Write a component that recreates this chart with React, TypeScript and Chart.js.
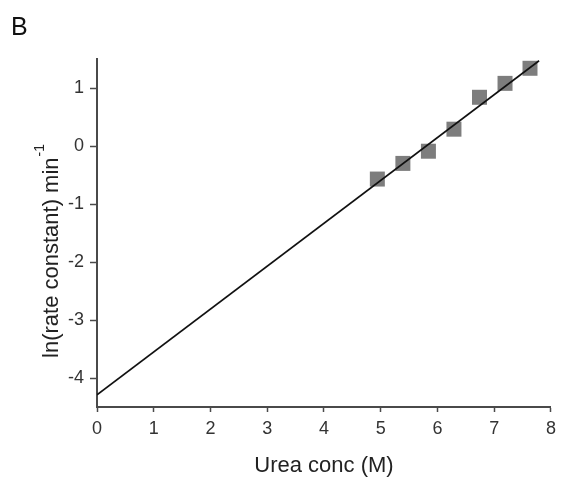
import React, { useEffect, useRef } from "react";
import { Chart, registerables } from "chart.js";

Chart.register(...registerables);

const ureaConc = [4.94, 5.39, 5.84, 6.29, 6.74, 7.19, 7.63];
const lnRate = [-0.57, -0.3, -0.09, 0.29, 0.84, 1.08, 1.34];
const fitX = [0, 7.79];
const fitY = [-4.29, 1.47];
const xTicks = [0, 1, 2, 3, 4, 5, 6, 7, 8];
const yTicks = [-4, -3, -2, -1, 0, 1];
const panelLabel = "B";
const xTitle = "Urea conc (M)";
const yTitleMain = "ln(rate constant) min";
const yTitleSup = "-1";

const FAM = "Liberation Sans, Arial, sans-serif";

const yTitlePlugin = {
  id: "yTitleSup",
  afterDraw(chart: any) {
    const ctx = chart.ctx as CanvasRenderingContext2D;
    ctx.save();
    ctx.translate(50, 251);
    ctx.rotate(-Math.PI / 2);
    ctx.fillStyle = "#222";
    ctx.textBaseline = "alphabetic";
    ctx.textAlign = "left";
    ctx.font = `22px ${FAM}`;
    const w1 = ctx.measureText(yTitleMain).width;
    ctx.font = `14px ${FAM}`;
    const w2 = ctx.measureText(yTitleSup).width;
    const x0 = -(w1 + w2 + 1) / 2;
    ctx.font = `22px ${FAM}`;
    ctx.fillText(yTitleMain, x0, 8);
    ctx.font = `14px ${FAM}`;
    ctx.fillText(yTitleSup, x0 + w1 + 1, -6);
    ctx.restore();
  },
};

export default function App() {
  const ref = useRef<HTMLCanvasElement | null>(null);
  useEffect(() => {
    if (!ref.current) return;
    const axisColor = "#4a4a4a";
    const chart = new Chart(ref.current, {
      type: "scatter",
      data: {
        datasets: [
          {
            label: "fit",
            data: fitX.map((x, i) => ({ x, y: fitY[i] })),
            showLine: true,
            borderColor: "#111111",
            borderWidth: 1.6,
            pointRadius: 0,
            order: 0,
          },
          {
            label: "data",
            data: ureaConc.map((x, i) => ({ x, y: lnRate[i] })),
            pointStyle: "rect",
            pointRadius: 10.6,
            backgroundColor: "#7d7d7d",
            borderWidth: 0,
            order: 1,
          },
        ],
      },
      options: {
        responsive: false,
        animation: false,
        layout: { padding: { top: 59, right: 7, left: 38, bottom: 0 } },
        plugins: { legend: { display: false }, tooltip: { enabled: false } },
        scales: {
          x: {
            type: "linear",
            min: 0,
            max: 8,
            afterBuildTicks: (s: any) => {
              s.ticks = xTicks.map((v) => ({ value: v }));
            },
            afterFit: (s: any) => {
              s.height = 70;
            },
            border: { display: true, color: axisColor, width: 2 },
            grid: { drawOnChartArea: false, drawTicks: true, tickLength: 5, tickColor: axisColor, tickWidth: 1.5 },
            ticks: {
              color: "#333",
              padding: 6,
              font: { family: FAM, size: 18 },
            },
            title: {
              display: true,
              text: xTitle,
              color: "#222",
              padding: { top: 0, bottom: 0 },
              font: { family: FAM, size: 22, lineHeight: 1 },
            },
          },
          y: {
            type: "linear",
            min: -4.5,
            max: 1.5,
            afterBuildTicks: (s: any) => {
              s.ticks = yTicks.map((v) => ({ value: v }));
            },
            afterFit: (s: any) => {
              s.width = 59;
            },
            border: { display: true, color: axisColor, width: 2 },
            grid: { drawOnChartArea: false, drawTicks: true, tickLength: 7, tickColor: axisColor, tickWidth: 1.5 },
            ticks: {
              color: "#333",
              padding: 6,
              font: { family: FAM, size: 18 },
            },
            title: { display: false },
          },
        },
      },
      plugins: [yTitlePlugin],
    });
    return () => chart.destroy();
  }, []);

  return (
    <div style={{ position: "fixed", left: 0, top: 0, width: 562, height: 477, background: "#fff" }}>
      <div
        style={{
          position: "absolute",
          left: 11,
          top: 12,
          fontFamily: FAM,
          fontSize: 25,
          lineHeight: "28px",
          color: "#111",
        }}
      >
        {panelLabel}
      </div>
      <canvas ref={ref} width={562} height={477} style={{ display: "block" }} />
    </div>
  );
}
